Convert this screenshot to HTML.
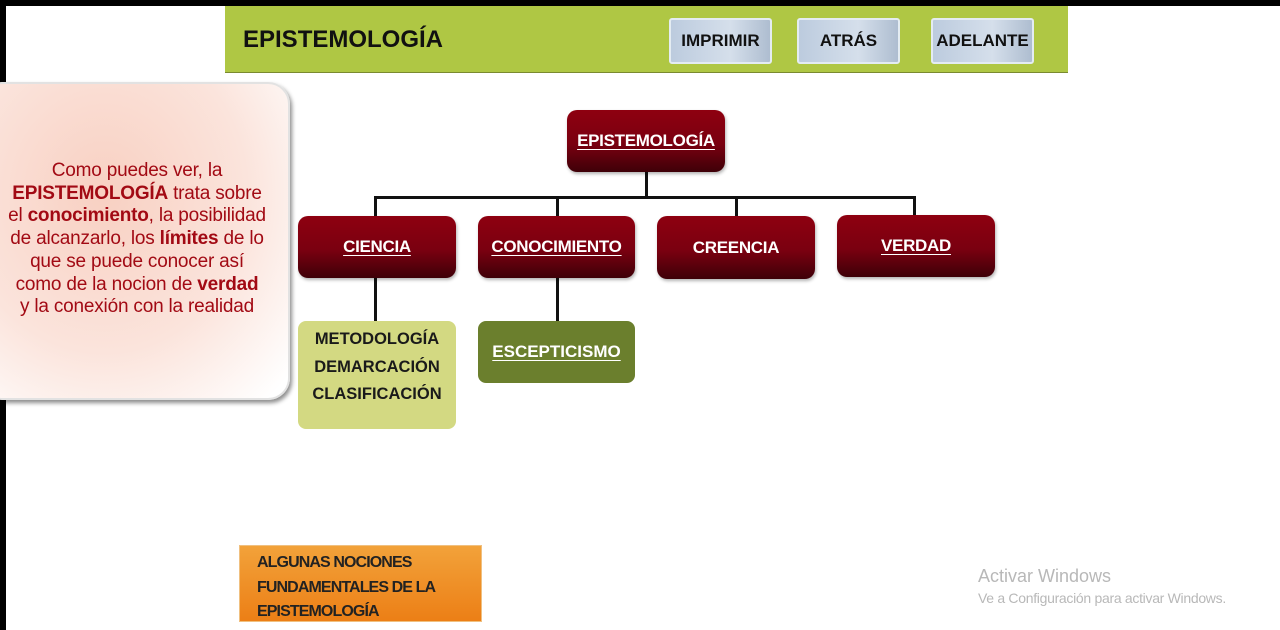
<!DOCTYPE html>
<html><head><meta charset="utf-8"><style>
body{margin:0;width:1280px;height:630px;background:#fff;position:relative;overflow:hidden;font-family:"Liberation Sans",sans-serif}
.a{position:absolute}
.red{position:absolute;border-radius:10px;background:linear-gradient(#8e0010,#7a0010 55%,#3e0008);color:#fff;font-weight:bold;font-size:17px;display:flex;align-items:center;justify-content:center;box-shadow:1px 2px 3px rgba(0,0,0,.3);letter-spacing:-0.3px}
.u{text-decoration:underline;text-underline-offset:3px}
.btn{position:absolute;top:18px;height:46px;border:2px solid #e4ecf2;border-radius:3px;background:linear-gradient(90deg,#bccbde,#d5dfeb 60%,#aebdd0);font-size:17px;font-weight:bold;color:#111;display:flex;align-items:center;justify-content:center;box-sizing:border-box}
.ln{position:absolute;background:#111}
</style></head><body>
<div class="a" style="left:0;top:0;width:1280px;height:6px;background:#000"></div>
<div class="a" style="left:0;top:0;width:6px;height:630px;background:#000"></div>
<div class="a" style="left:225px;top:6px;width:843px;height:66px;background:#afc744;border-bottom:1px solid #7a8a30"></div>
<div class="a" style="left:243px;top:26px;font-size:24px;font-weight:bold;color:#111">EPISTEMOLOGÍA</div>
<div class="btn" style="left:669px;width:103px">IMPRIMIR</div>
<div class="btn" style="left:797px;width:103px">ATRÁS</div>
<div class="btn" style="left:931px;width:103px">ADELANTE</div>

<div class="a" style="left:-20px;top:82px;width:306px;height:314px;border-radius:22px;background:radial-gradient(ellipse at 40% 35%,#f8d0c2,#fbe4dc 55%,#fff 95%);border:2px solid #e2e2e2;box-shadow:2px 3px 4px rgba(0,0,0,.45)"></div>
<div class="a" style="left:-15px;top:160px;width:304px;text-align:center;font-size:19px;line-height:22.7px;color:#a20a14;letter-spacing:-0.2px">Como puedes ver, la<br><b>EPISTEMOLOGÍA</b> trata sobre<br>el <b>conocimiento</b>, la posibilidad<br>de alcanzarlo, los <b>límites</b> de lo<br>que se puede conocer así<br>como de la nocion de <b>verdad</b><br>y la conexión con la realidad</div>

<div class="ln" style="left:645px;top:172px;width:3px;height:26px"></div>
<div class="ln" style="left:374px;top:196px;width:542px;height:3px"></div>
<div class="ln" style="left:374px;top:196px;width:3px;height:20px"></div>
<div class="ln" style="left:556px;top:196px;width:3px;height:20px"></div>
<div class="ln" style="left:735px;top:196px;width:3px;height:20px"></div>
<div class="ln" style="left:913px;top:196px;width:3px;height:20px"></div>
<div class="ln" style="left:374px;top:278px;width:3px;height:44px"></div>
<div class="ln" style="left:556px;top:278px;width:3px;height:44px"></div>

<div class="red" style="left:567px;top:110px;width:158px;height:62px"><span class="u">EPISTEMOLOGÍA</span></div>
<div class="red" style="left:298px;top:216px;width:158px;height:62px"><span class="u">CIENCIA</span></div>
<div class="red" style="left:478px;top:216px;width:157px;height:62px"><span class="u">CONOCIMIENTO</span></div>
<div class="red" style="left:657px;top:216px;width:158px;height:63px">CREENCIA</div>
<div class="red" style="left:837px;top:215px;width:158px;height:62px"><span class="u">VERDAD</span></div>

<div class="a" style="left:298px;top:321px;width:158px;height:108px;border-radius:8px;background:#d3d982;font-weight:bold;font-size:16.5px;color:#1a1a1a;text-align:center;line-height:27.5px;padding-top:5px;box-sizing:border-box">METODOLOGÍA<br>DEMARCACIÓN<br>CLASIFICACIÓN</div>
<div class="a" style="left:478px;top:321px;width:157px;height:62px;border-radius:8px;background:#6b7f2d;color:#fff;font-weight:bold;font-size:17px;display:flex;align-items:center;justify-content:center"><span class="u">ESCEPTICISMO</span></div>

<div class="a" style="left:239px;top:545px;width:243px;height:77px;background:linear-gradient(#f2a23a,#ec7f16);border:1px solid #f0c080;box-sizing:border-box;padding:5px 0 0 17px;font-size:16px;font-weight:bold;line-height:24.5px;color:#222;letter-spacing:-0.9px">ALGUNAS NOCIONES<br>FUNDAMENTALES DE LA<br>EPISTEMOLOGÍA</div>

<div class="a" style="left:978px;top:566px;font-size:18px;color:#b8b8b8">Activar Windows</div>
<div class="a" style="left:978px;top:590px;font-size:14px;color:#b8b8b8;letter-spacing:-0.3px">Ve a Configuración para activar Windows.</div>
</body></html>
